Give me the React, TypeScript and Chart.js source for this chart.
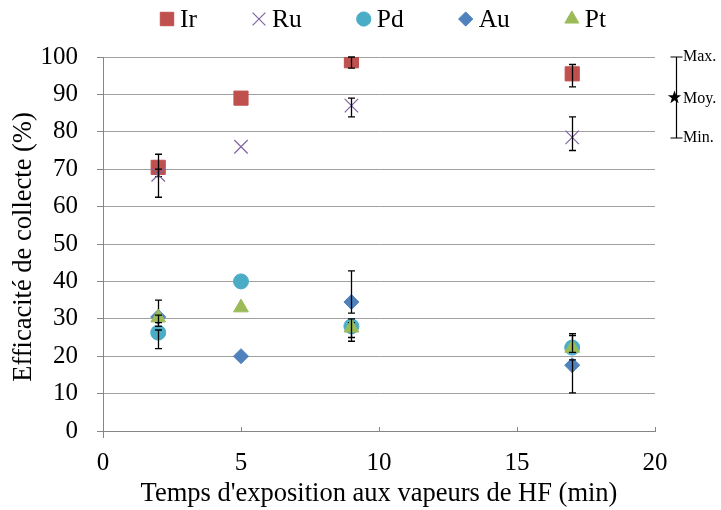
import React, { useEffect, useRef } from "react";
import { Chart, registerables } from "chart.js";
import { drawPoint } from "chart.js/helpers";

Chart.register(...registerables);

const FONT = "'Liberation Serif', 'Times New Roman', serif";

const xTimes = [2, 5, 9, 17];
const seriesNames = ["Ir", "Ru", "Pd", "Au", "Pt"];
const colors = ["#C0504D", "#8064A2", "#4BACC6", "#4F81BD", "#9BBB59"];
const styles = ["rect", "crossRot", "circle", "rectRot", "triangle"];
const radii = [10, 9.5, 7.5, 7.5, 8.5];

const ir = [70.5, 89, 99, 95.5];
const ru = [68.5, 76, 87, 78.5];
const pd = [26.3, 40, 28, 22.3];
const au = [30.5, 20, 34.5, 17.6];
const pt = [30.3, 33, 27.6, 22.2];

const irLow = [68, null, 97, 92];
const irHigh = [74, null, 100, 98];
const ruLow = [62.5, null, 84, 75];
const ruHigh = [70, null, 89, 84];
const pdLow = [22, null, 25, 21];
const pdHigh = [27, null, 29, 25.5];
const auLow = [28, null, 31.5, 10.2];
const auHigh = [35, null, 42.8, 19];
const ptLow = [29, null, 24, 21];
const ptHigh = [31, null, 30, 26];

const values = [ir, ru, pd, au, pt];
const lows = [irLow, ruLow, pdLow, auLow, ptLow];
const highs = [irHigh, ruHigh, pdHigh, auHigh, ptHigh];

const xTickValues = [0, 5, 10, 15, 20];
const keyLabels = ["Max.", "Moy.", "Min."];

const xTitle = "Temps d'exposition aux vapeurs de HF (min)";
const yTitle = "Efficacité de collecte (%)";

const errorPlugin = {
  id: "errorBars",
  afterDatasetDraw(chart: any, args: any) {
    const i = args.index;
    const ctx = chart.ctx;
    const ys = chart.scales.y;
    const lo = lows[i];
    const hi = highs[i];
    ctx.save();
    ctx.strokeStyle = "#000";
    ctx.lineWidth = 1.3;
    args.meta.data.forEach((p: any, j: number) => {
      if (lo[j] == null || hi[j] == null) return;
      const y1 = ys.getPixelForValue(lo[j]);
      const y2 = ys.getPixelForValue(hi[j]);
      const x = Math.round(p.x) + 0.5;
      ctx.beginPath();
      ctx.moveTo(x, y1);
      ctx.lineTo(x, y2);
      ctx.moveTo(x - 3.5, y1);
      ctx.lineTo(x + 3.5, y1);
      ctx.moveTo(x - 3.5, y2);
      ctx.lineTo(x + 3.5, y2);
      ctx.stroke();
    });
    ctx.restore();
  },
};

function drawStar(ctx: CanvasRenderingContext2D, cx: number, cy: number, r: number) {
  ctx.beginPath();
  for (let k = 0; k < 10; k++) {
    const rr = k % 2 === 0 ? r : r * 0.4;
    const a = -Math.PI / 2 + (k * Math.PI) / 5;
    const px = cx + rr * Math.cos(a);
    const py = cy + rr * Math.sin(a);
    if (k === 0) ctx.moveTo(px, py);
    else ctx.lineTo(px, py);
  }
  ctx.closePath();
  ctx.fill();
}

const overlayPlugin = {
  id: "overlay",
  afterDraw(chart: any) {
    const ctx = chart.ctx;
    const area = chart.chartArea;
    const xs = chart.scales.x;
    ctx.save();
    // x ticks (inward)
    ctx.strokeStyle = "#868686";
    ctx.lineWidth = 1;
    xTickValues.forEach((v) => {
      const x = Math.round(xs.getPixelForValue(v)) + 0.5;
      ctx.beginPath();
      if (v === 0) {
        ctx.moveTo(x, area.bottom);
        ctx.lineTo(x, area.bottom + 7);
      } else {
        ctx.moveTo(x, area.bottom);
        ctx.lineTo(x, area.bottom - 4);
      }
      ctx.stroke();
    });

    // legend
    ctx.font = `25.5px ${FONT}`;
    ctx.textBaseline = "middle";
    ctx.textAlign = "left";
    let mx = 167;
    const ly = 19;
    seriesNames.forEach((name, i) => {
      ctx.fillStyle = colors[i];
      ctx.strokeStyle = colors[i];
      ctx.lineWidth = i === 1 ? 1.2 : 1;
      drawPoint(ctx, { pointStyle: styles[i], radius: radii[i] * 0.95, borderWidth: ctx.lineWidth, rotation: 0 } as any, mx, ly);
      ctx.fillStyle = "#000";
      const tx = mx + 13;
      ctx.fillText(name, tx, ly + 1);
      mx = tx + ctx.measureText(name).width + 62;
    });

    // axis titles
    ctx.font = `26.5px ${FONT}`;
    ctx.fillStyle = "#000";
    ctx.textAlign = "center";
    ctx.fillText(xTitle, 379, 494);
    ctx.save();
    ctx.translate(24, 247);
    ctx.rotate(-Math.PI / 2);
    ctx.fillText(yTitle, 0, 0);
    ctx.restore();

    // right key
    const kx = 676.5;
    const kTop = 57;
    const kBot = 138;
    const kMid = (kTop + kBot) / 2;
    ctx.strokeStyle = "#000";
    ctx.lineWidth = 1.2;
    ctx.beginPath();
    ctx.moveTo(kx, kTop);
    ctx.lineTo(kx, kBot);
    ctx.moveTo(kx - 6, kTop);
    ctx.lineTo(kx + 6, kTop);
    ctx.moveTo(kx - 6, kBot);
    ctx.lineTo(kx + 6, kBot);
    ctx.stroke();
    ctx.fillStyle = "#000";
    drawStar(ctx, kx - 2, kMid, 7);
    ctx.font = `16px ${FONT}`;
    ctx.textAlign = "left";
    ctx.fillText(keyLabels[0], 683, kTop);
    ctx.fillText(keyLabels[1], 683, kMid + 1);
    ctx.fillText(keyLabels[2], 683, kBot);
    ctx.restore();
  },
};

export default function App() {
  const ref = useRef<HTMLCanvasElement | null>(null);
  useEffect(() => {
    if (!ref.current) return;
    const chart = new Chart(ref.current, {
      type: "scatter",
      data: {
        datasets: seriesNames.map((name, i) => ({
          label: name,
          data: xTimes.map((x, j) => ({ x, y: values[i][j] })),
          backgroundColor: colors[i],
          borderColor: colors[i],
          borderWidth: i === 1 ? 1.2 : 1,
          pointStyle: styles[i] as any,
          pointRadius: radii[i],
          pointHoverRadius: radii[i],
          showLine: false,
          order: 5 - i,
        })),
      },
      options: {
        responsive: false,
        animation: false,
        events: [],
        layout: { padding: { left: 0, top: 57, right: 66, bottom: 0 } },
        plugins: {
          legend: { display: false },
          tooltip: { enabled: false },
          title: { display: false },
        },
        scales: {
          x: {
            type: "linear",
            min: 0,
            max: 20,
            afterFit: (s: any) => {
              s.height = 79;
            },
            ticks: {
              stepSize: 5,
              color: "#000",
              font: { family: FONT, size: 25 },
              padding: 17,
            },
            grid: { display: false, drawTicks: false },
            border: { display: true, color: "#868686", width: 1 },
          },
          y: {
            min: 0,
            max: 100,
            afterFit: (s: any) => {
              s.width = 103;
            },
            ticks: {
              stepSize: 10,
              color: "#000",
              font: { family: FONT, size: 25 },
              padding: 19,
            },
            grid: { color: "#a0a0a0", lineWidth: 1, tickLength: 6, tickColor: "#868686" },
            border: { display: true, color: "#868686", width: 1 },
          },
        },
      },
      plugins: [errorPlugin, overlayPlugin],
    });
    return () => chart.destroy();
  }, []);
  return (
    <div style={{ position: "absolute", left: 0, top: 0 }}>
      <canvas ref={ref} width={721} height={510} style={{ display: "block" }} />
    </div>
  );
}
